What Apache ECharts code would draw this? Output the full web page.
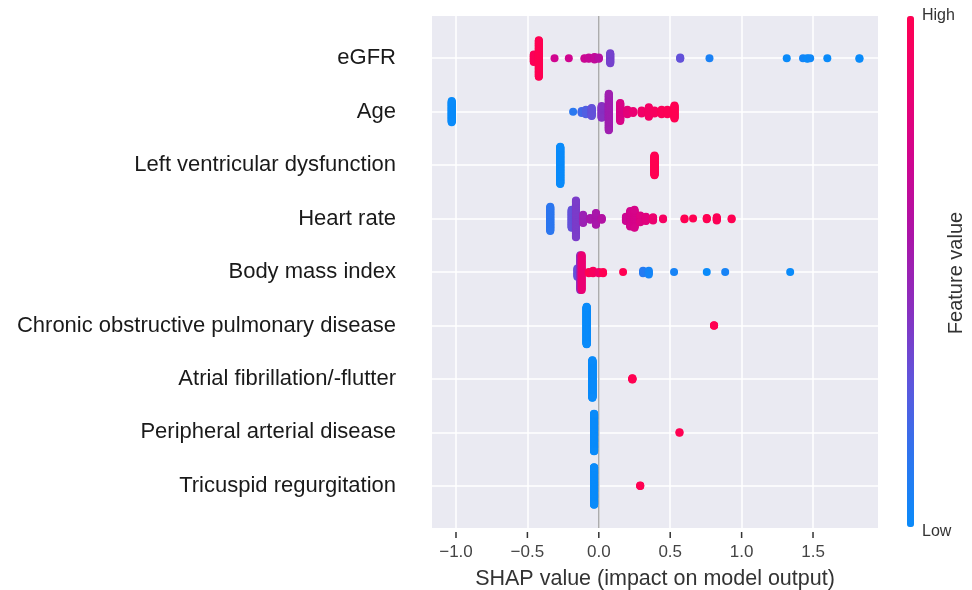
<!DOCTYPE html>
<html>
<head>
<meta charset="utf-8">
<script src="https://cdn.jsdelivr.net/npm/echarts@6/dist/echarts.min.js"></script>
<style>
html, body { margin: 0; padding: 0; background: #fff; }
#chart { width: 972px; height: 590px; }
</style>
</head>
<body>
<div id="chart"></div>
<script>
const features = [
    'eGFR',
    'Age',
    'Left ventricular dysfunction',
    'Heart rate',
    'Body mass index',
    'Chronic obstructive pulmonary disease',
    'Atrial fibrillation/-flutter',
    'Peripheral arterial disease',
    'Tricuspid regurgitation'
]

// clusters: [shap value, number of samples, feature value 0 (low) .. 1 (high)]
const eGFR = [
    [-0.455, 13, 0.97], [-0.42, 60, 1.0], [-0.31, 1, 0.72], [-0.21, 1, 0.72],
    [-0.10, 2, 0.7], [-0.07, 3, 0.68], [-0.03, 5, 0.66], [0.0, 3, 0.62],
    [0.08, 17, 0.36], [0.57, 3, 0.3], [0.775, 1, 0.06],
    [1.316, 1, 0.0], [1.43, 1, 0.04], [1.46, 2, 0.0], [1.48, 1, 0.02],
    [1.60, 1, 0.0], [1.825, 2, 0.0]
]
const age = [
    [-1.03, 35, 0.0], [-0.18, 1, 0.12], [-0.12, 4, 0.2], [-0.09, 8, 0.24],
    [-0.05, 14, 0.3], [0.02, 20, 0.42], [0.07, 60, 0.52], [0.15, 30, 0.76],
    [0.20, 8, 0.82], [0.24, 4, 0.85], [0.30, 6, 0.9], [0.35, 16, 0.92],
    [0.39, 6, 0.95], [0.44, 8, 0.97], [0.48, 8, 0.98], [0.53, 22, 1.0]
]
const lvDysfunction = [[-0.27, 90, 0.0], [0.39, 48, 1.0]]
const heartRate = [
    [-0.34, 40, 0.13], [-0.19, 30, 0.3], [-0.16, 60, 0.38], [-0.11, 14, 0.5],
    [-0.06, 4, 0.55], [-0.02, 20, 0.56], [0.02, 4, 0.6], [0.19, 8, 0.7],
    [0.22, 26, 0.72], [0.25, 30, 0.75], [0.29, 12, 0.78], [0.33, 8, 0.8],
    [0.38, 6, 0.86], [0.45, 2, 0.93], [0.60, 2, 1.0], [0.66, 1, 1.0],
    [0.756, 3, 1.0], [0.826, 6, 0.98], [0.93, 2, 1.0]
]
const bmi = [
    [-0.15, 8, 0.3], [-0.13, 30, 0.45], [-0.12, 30, 0.85], [-0.07, 2, 1.0],
    [-0.04, 3, 0.95], [0.0, 2, 0.9], [0.03, 2, 1.0], [0.17, 1, 1.0],
    [0.31, 3, 0.1], [0.35, 4, 0.04], [0.527, 1, 0.05], [0.756, 1, 0.0],
    [0.885, 1, 0.05], [1.34, 1, 0.0]
]
const copd = [[-0.085, 120, 0.0], [0.807, 3, 1.0]]
const atrialFib = [[-0.045, 120, 0.0], [0.235, 5, 1.0]]
const pad = [[-0.033, 120, 0.0], [0.565, 2, 1.0]]
const tricuspid = [[-0.033, 120, 0.0], [0.29, 3, 1.0]]

const rows = [eGFR, age, lvDysfunction, heartRate, bmi, copd, atrialFib, pad, tricuspid]
const xTicks = [-1.0, -0.5, 0.0, 0.5, 1.0, 1.5]
const rowTicks = features.map((f, i) => i)
const xMin = -1.168, xMax = 1.955
const yMin = -0.79, yMax = 8.79

// same stacking as shap's summary plot: bin the values, stack each bin up and down
function beeswarm(clusters, row) {
    const pts = []
    clusters.forEach(c => {
        for (let i = 0; i < c[1]; i++) pts.push({ x: c[0], v: c[2], k: (i + 0.5) / c[1] })
    })
    const xs = pts.map(p => p.x)
    const lo = Math.min(...xs), hi = Math.max(...xs)
    const nbins = 100
    pts.forEach(p => { p.q = Math.round(nbins * (p.x - lo) / (hi - lo + 1e-8)) })
    pts.sort((a, b) => a.q - b.q || a.k - b.k)
    let layer = 0, last = -1, maxY = 0
    pts.forEach(p => {
        if (p.q !== last) layer = 0
        p.y = Math.ceil(layer / 2) * ((layer % 2) * 2 - 1)
        layer++
        last = p.q
        maxY = Math.max(maxY, p.y)
    })
    const s = 0.9 * 0.4 / (maxY + 1)
    return pts.map(p => [p.x, row + p.y * s, p.v])
}

let points = []
rows.forEach((r, i) => { points = points.concat(beeswarm(r, i)) })

const font = "'Liberation Sans', Arial, sans-serif"
const myChart = echarts.init(document.getElementById('chart'))

const labels = [
    { type: 'text', left: 922, top: 8, style: { text: 'High', fontSize: 16, fill: '#333', fontFamily: font } },
    { type: 'text', left: 922, top: 524, style: { text: 'Low', fontSize: 16, fill: '#333', fontFamily: font } },
    {
        type: 'text', x: 956, y: 273, rotation: Math.PI / 2,
        style: { text: 'Feature value', fontSize: 20, fill: '#333', fontFamily: font, align: 'center', verticalAlign: 'middle' }
    }
]

myChart.setOption({
    animation: false,
    textStyle: { fontFamily: font },
    grid: {
        left: 432, right: 94, top: 16, bottom: 62,
        outerBoundsMode: 'none', containLabel: false,
        show: true, backgroundColor: '#eaeaf2', borderWidth: 0
    },
    xAxis: {
        type: 'value', min: xMin, max: xMax, offset: 4,
        axisLine: { show: false, onZero: false },
        axisTick: { show: false, customValues: xTicks },
        axisLabel: {
            customValues: xTicks, fontSize: 17, color: '#444', margin: 12,
            formatter: v => (v < 0 ? '\u2212' : '') + Math.abs(v).toFixed(1)
        },
        splitLine: { show: true, lineStyle: { color: '#fff', width: 1.5 } },
        name: 'SHAP value (impact on model output)',
        nameLocation: 'middle', nameGap: 36,
        nameTextStyle: { fontSize: 21.5, color: '#333' }
    },
    yAxis: {
        type: 'value', min: yMin, max: yMax, inverse: true,
        axisLine: { show: false, onZero: false },
        axisTick: { show: false, customValues: rowTicks },
        axisLabel: {
            customValues: rowTicks, fontSize: 22, color: '#1a1a1a', margin: 36,
            formatter: v => features[Math.round(v)]
        },
        splitLine: { show: true, lineStyle: { color: '#fff', width: 1.5 } }
    },
    visualMap: {
        type: 'continuous', min: 0, max: 1, dimension: 2, seriesIndex: 1,
        calculable: false, show: true,
        left: 907, top: 16, itemWidth: 7, itemHeight: 511, padding: 0,
        text: null, showLabel: false,
        inRange: { color: ['#0a8bfa', '#2f74ee', '#5f55dc', '#8a2fbf', '#ab14a8', '#cf0590', '#ec0070', '#ff0052'] }
    },
    graphic: labels,
    series: [
        {
            type: 'line', z: 1, silent: true, symbol: 'none',
            data: [[0, yMin], [0, yMax]],
            lineStyle: { color: '#999', width: 1.2 }
        },
        {
            type: 'scatter', z: 2, symbolSize: 8,
            data: points,
            itemStyle: { opacity: 1 }
        }
    ]
})

// tick marks under the plot, placed through the x scale once the chart is laid out
const tickMarks = xTicks.map(v => {
    const p = myChart.convertToPixel({ xAxisIndex: 0, yAxisIndex: 0 }, [v, yMax])
    return {
        type: 'line', z: 100, silent: true,
        shape: { x1: p[0], y1: p[1] + 4, x2: p[0], y2: p[1] + 10 },
        style: { stroke: '#333', lineWidth: 1.5 }
    }
})
myChart.setOption({ graphic: labels.concat(tickMarks) })
</script>
</body>
</html>
